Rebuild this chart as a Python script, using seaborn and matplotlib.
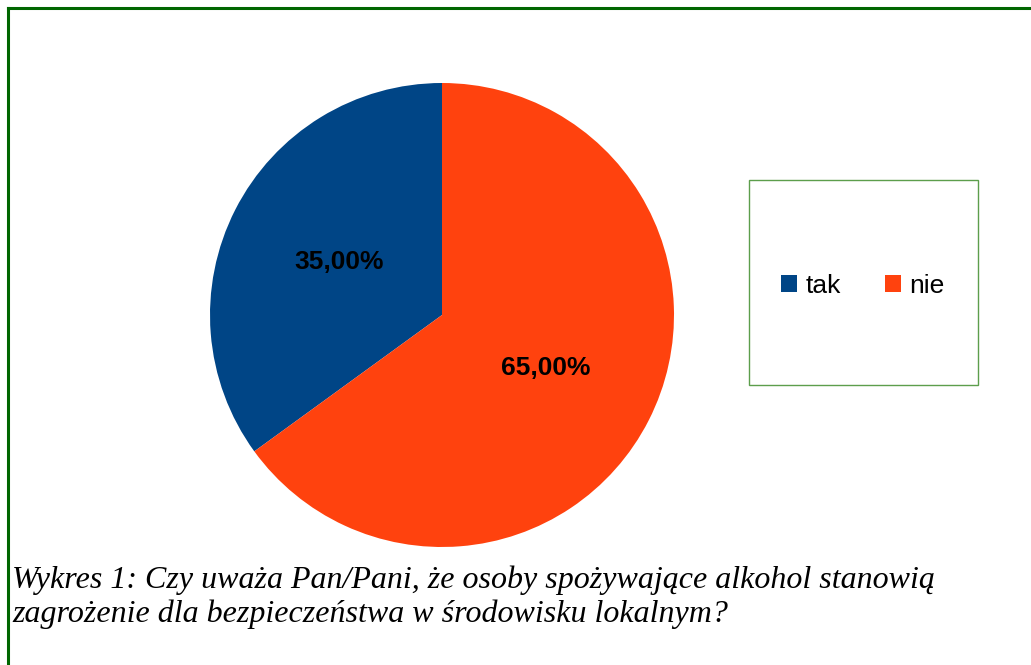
import matplotlib
matplotlib.use('Agg')
import matplotlib.pyplot as plt
import seaborn as sns
from matplotlib.patches import Rectangle, Patch
from matplotlib.lines import Line2D

sns.set_theme(style='white')
plt.rcParams['font.family'] = ['Liberation Sans', 'DejaVu Sans']
plt.rcParams['text.color'] = 'black'

# data
labels = ['tak', 'nie']
values = [35, 65]
colors = ['#004586', '#ff420e']
caption_lines = ['Wykres 1: Czy uważa Pan/Pani, że osoby spożywające alkohol stanowią',
                 'zagrożenie dla bezpieczeństwa w środowisku lokalnym?']

W, H = 1031, 665
fig = plt.figure(figsize=(W / 100, H / 100), dpi=100)
fig.patch.set_facecolor('white')

# pie axes: centre (442, 315), radius 232 px
cx, cy, r = 442, 315, 232
ax = fig.add_axes([(cx - r) / W, (H - cy - r) / H, 2 * r / W, 2 * r / H])
ax.pie(values, colors=colors, startangle=90, counterclock=True,
       autopct=lambda p: f'{p:.2f}%'.replace('.', ','), pctdistance=0.5,
       wedgeprops=dict(linewidth=0),
       textprops=dict(fontsize=19, fontweight='bold', color='black'))
ax.set_xlim(-1, 1)
ax.set_ylim(-1, 1)
ax.set_aspect('equal')
ax.axis('off')

# legend box
fig.patches.append(Rectangle((749 / W, (H - 385) / H), 229 / W, 205 / H,
                             transform=fig.transFigure, facecolor='white',
                             edgecolor='#5c9e4c', linewidth=1))
handles = [Patch(facecolor=c, edgecolor='none') for c in colors]
fig.legend(handles, labels, loc='center', bbox_to_anchor=(863 / W, 1 - 286 / H),
           ncol=2, frameon=False, fontsize=19, handlelength=0.6, handleheight=0.6,
           handletextpad=0.34, columnspacing=1.65, labelcolor='black')

# caption
for i, line in enumerate(caption_lines):
    fig.text(12 / W, 1 - (588 + 34 * i) / H, line, fontsize=23, style='italic',
             family=['Liberation Serif', 'DejaVu Serif'], va='baseline', ha='left',
             color='black')

# page border (left and top)
green = '#006600'
fig.lines.append(Line2D([8 / W, 8 / W], [0, 1 - 8 / H], transform=fig.transFigure,
                        color=green, linewidth=2.2, solid_capstyle='projecting'))
fig.lines.append(Line2D([8 / W, 1], [1 - 8 / H, 1 - 8 / H], transform=fig.transFigure,
                        color=green, linewidth=2.2, solid_capstyle='projecting'))

fig.savefig('out.png', dpi=100)
